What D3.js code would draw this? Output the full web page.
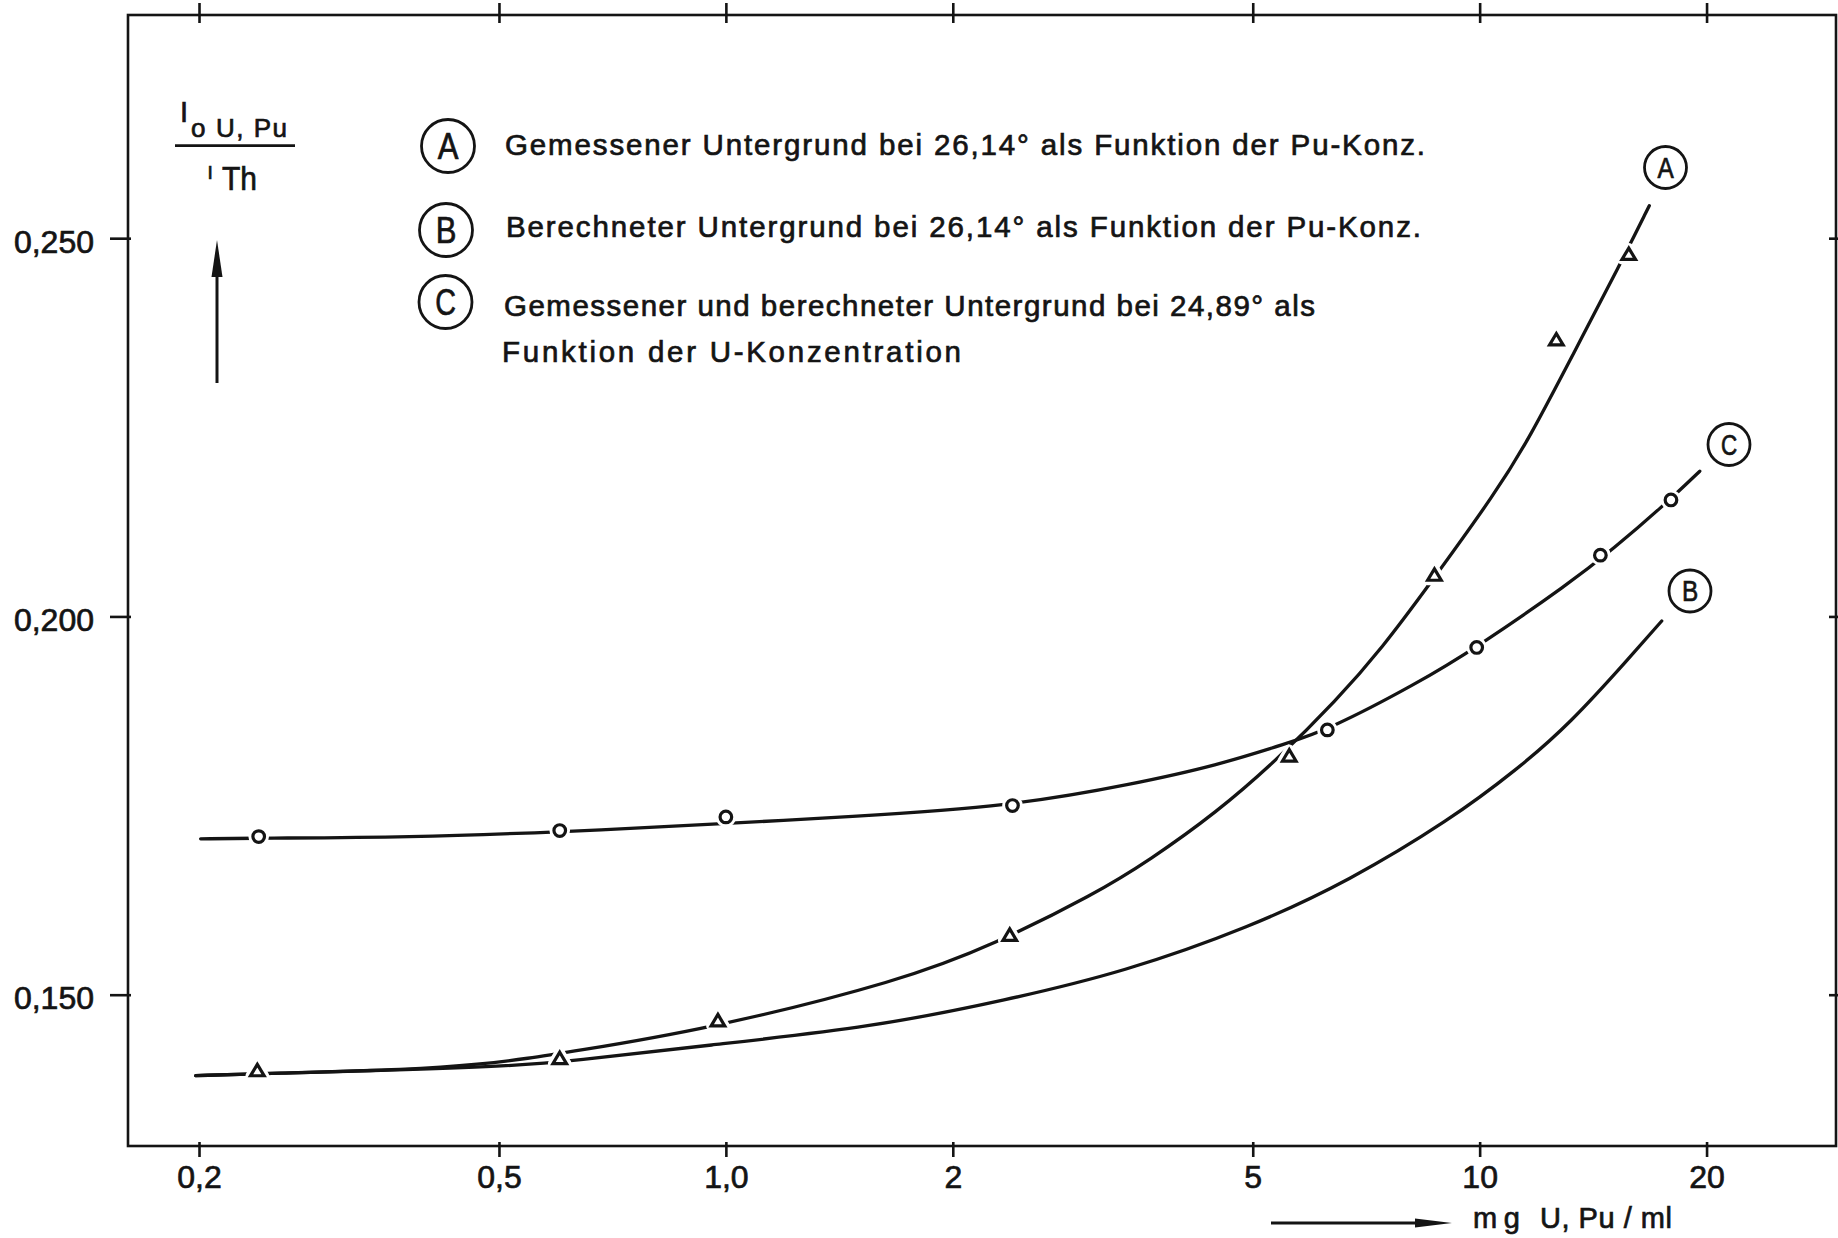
<!DOCTYPE html>
<html><head><meta charset="utf-8">
<script src="https://cdn.jsdelivr.net/npm/d3@7"></script>
<style>html,body{margin:0;padding:0;background:#fff;} svg{display:block;}</style>
</head><body>
<svg id="chart" width="1838" height="1238"></svg>
<script>
// ---------- data ----------
const xTicks = [0.2, 0.5, 1, 2, 5, 10, 20];
const xTickLabels = ["0,2", "0,5", "1,0", "2", "5", "10", "20"];
const yTicks = [0.150, 0.200, 0.250];
const yTickLabels = ["0,150", "0,200", "0,250"];

// measured points, curve A (triangles)
const pointsA = [[0.239,0.1400],[0.602,0.1416],[0.976,0.1466],[2.38,0.1579],[5.59,0.1816],[8.71,0.2055],[12.64,0.2366],[15.77,0.2479]];
// measured points, curve C (circles)
const pointsC = [[0.240,0.1709],[0.602,0.1717],[1.0,0.1735],[2.40,0.1750],[6.28,0.1850],[9.91,0.1959],[14.46,0.2081],[17.94,0.2154]];

// drawn (fitted) curves
const curveA = [[0.198,0.1393],[0.248,0.1396],[0.384,0.1401],[0.472,0.1408],[0.549,0.1416],[0.617,0.1424],[0.943,0.1454],[1.717,0.1519],[2.274,0.1567],[3.084,0.1633],[3.651,0.1678],[4.477,0.1741],[5.378,0.1810],[6.458,0.1889],[7.446,0.1960],[8.502,0.2037],[10.53,0.2165],[11.66,0.2237],[13.31,0.2347],[15.35,0.2465],[16.79,0.2543]];
const curveB = [[0.198,0.1393],[0.248,0.1396],[0.384,0.1401],[0.522,0.1406],[0.621,0.1412],[0.943,0.1433],[1.567,0.1457],[2.359,0.1493],[3.372,0.1530],[4.955,0.1589],[6.727,0.1651],[9.128,0.1731],[11.19,0.1797],[13.17,0.1858],[15.82,0.1946],[17.44,0.1994]];
const curveC = [[0.201,0.1706],[0.240,0.1707],[0.380,0.1708],[0.602,0.1715],[0.997,0.1726],[1.438,0.1735],[2.394,0.1749],[3.492,0.1779],[4.477,0.1803],[5.544,0.1832],[6.290,0.1850],[8.248,0.1911],[9.908,0.1959],[13.17,0.2044],[15.03,0.2089],[17.52,0.2146],[19.59,0.2192]];

const legendLetters = ["A", "B", "C"];
const legendLines = [
  "Gemessener Untergrund bei 26,14° als Funktion der Pu-Konz.",
  "Berechneter Untergrund bei 26,14° als Funktion der Pu-Konz.",
  "Gemessener und berechneter Untergrund bei 24,89° als",
  "Funktion der U-Konzentration"
];
const xTitle = ["mg", "U, Pu / ml"];

// ---------- drawing ----------
const INK = "#141414";
const FONT = "'Liberation Sans', Arial, sans-serif";
const svg = d3.select("#chart");
svg.append("rect").attr("width", 1838).attr("height", 1238).attr("fill", "#fff");

function ink(sel, size) {
  return sel.attr("font-family", FONT).attr("font-size", size).attr("fill", INK)
    .attr("stroke", INK).attr("stroke-width", 0.7).attr("paint-order", "stroke");
}

const M = {left: 128, right: 1836, top: 15, bottom: 1146};
const x = d3.scaleLog().domain([0.161, 29.7]).range([M.left, M.right]);
const y = d3.scaleLinear().domain([0.13, 0.2795]).range([M.bottom, M.top]);

// frame
svg.append("rect").attr("x", M.left).attr("y", M.top)
  .attr("width", M.right - M.left).attr("height", M.bottom - M.top)
  .attr("fill", "none").attr("stroke", INK).attr("stroke-width", 2.6);

// bottom axis
const gb = svg.append("g").attr("transform", `translate(0,${M.bottom})`)
  .call(d3.axisBottom(x).tickValues(xTicks).tickFormat((d, i) => xTickLabels[i]).tickSizeOuter(0));
gb.select(".domain").remove();
gb.selectAll(".tick line").attr("y1", -4).attr("y2", 11).attr("stroke", INK).attr("stroke-width", 2.6);
ink(gb.selectAll(".tick text").attr("y", 42).attr("dy", null), 32);

// top axis (ticks only)
const gt = svg.append("g").attr("transform", `translate(0,${M.top})`)
  .call(d3.axisTop(x).tickValues(xTicks).tickFormat("").tickSizeOuter(0));
gt.select(".domain").remove();
gt.selectAll(".tick line").attr("y1", -12).attr("y2", 8).attr("stroke", INK).attr("stroke-width", 2.6);

// left axis
const gl = svg.append("g").attr("transform", `translate(${M.left},0)`)
  .call(d3.axisLeft(y).tickValues(yTicks).tickFormat((d, i) => yTickLabels[i]).tickSizeOuter(0));
gl.select(".domain").remove();
gl.selectAll(".tick line").attr("x1", -18).attr("x2", 3).attr("stroke", INK).attr("stroke-width", 2.6);
ink(gl.selectAll(".tick text").attr("x", -34).attr("y", 14).attr("dy", null), 32);

// right axis (ticks only)
const gr = svg.append("g").attr("transform", `translate(${M.right},0)`)
  .call(d3.axisRight(y).tickValues(yTicks).tickFormat("").tickSizeOuter(0));
gr.select(".domain").remove();
gr.selectAll(".tick line").attr("x1", -7).attr("x2", 2).attr("stroke", INK).attr("stroke-width", 2.6);

// curves
const line = d3.line().x(d => x(d[0])).y(d => y(d[1])).curve(d3.curveBasis);
[curveB, curveA, curveC].forEach(c => {
  svg.append("path").attr("d", line(c)).attr("fill", "none")
    .attr("stroke", INK).attr("stroke-width", 3.3).attr("stroke-linecap", "round");
});

// markers
const tri = "M0,-6L6.8,5.4L-6.8,5.4Z";
const gA = svg.append("g");
gA.selectAll("path.halo").data(pointsA).join("path").attr("class", "halo")
  .attr("d", tri).attr("transform", d => `translate(${x(d[0])},${y(d[1])})`)
  .attr("fill", "#fff").attr("stroke", "#fff").attr("stroke-width", 10).attr("stroke-linejoin", "round");
gA.selectAll("path.mk").data(pointsA).join("path").attr("class", "mk")
  .attr("d", tri).attr("transform", d => `translate(${x(d[0])},${y(d[1])})`)
  .attr("fill", "#fff").attr("stroke", INK).attr("stroke-width", 3.2).attr("stroke-linejoin", "miter");

const gC = svg.append("g");
gC.selectAll("circle.halo").data(pointsC).join("circle").attr("class", "halo")
  .attr("cx", d => x(d[0])).attr("cy", d => y(d[1])).attr("r", 5.8)
  .attr("fill", "#fff").attr("stroke", "#fff").attr("stroke-width", 9);
gC.selectAll("circle.mk").data(pointsC).join("circle").attr("class", "mk")
  .attr("cx", d => x(d[0])).attr("cy", d => y(d[1])).attr("r", 5.8)
  .attr("fill", "#fff").attr("stroke", INK).attr("stroke-width", 3.2);

// circled letter helper
function circled(cx, cy, r, letter, fs) {
  svg.append("circle").attr("cx", cx).attr("cy", cy).attr("r", r)
    .attr("fill", "#fff").attr("stroke", INK).attr("stroke-width", 2.8);
  ink(svg.append("text").attr("x", cx).attr("y", cy + fs * 0.36).attr("text-anchor", "middle"), fs)
    .attr("textLength", fs * 0.56).attr("lengthAdjust", "spacingAndGlyphs").text(letter);
}

// legend
const legendCircles = [[448, 146], [446, 230], [445.5, 302]];
legendLetters.forEach((L, i) => circled(legendCircles[i][0], legendCircles[i][1], 26.5, L, 37));
const legendPos = [[505, 155, 920], [506, 237, 915], [504, 316, 811], [502, 362, 459]];
legendLines.forEach((t, i) => {
  ink(svg.append("text").attr("x", legendPos[i][0]).attr("y", legendPos[i][1])
    .attr("textLength", legendPos[i][2]).attr("lengthAdjust", "spacing"), 29.5).text(t);
});

// curve labels
circled(1665.5, 167.5, 21, "A", 29);
circled(1729, 444.5, 21, "C", 29);
circled(1690, 591, 21, "B", 29);

// y-axis title (fraction)
ink(svg.append("text").attr("x", 180).attr("y", 121.5), 29).text("I");
ink(svg.append("text").attr("x", 191).attr("y", 136.5), 26).text("o");
ink(svg.append("text").attr("x", 216).attr("y", 136.5).attr("textLength", 71).attr("lengthAdjust", "spacing"), 26).text("U, Pu");
svg.append("line").attr("x1", 175).attr("x2", 295).attr("y1", 145.7).attr("y2", 145.7)
  .attr("stroke", INK).attr("stroke-width", 2.8);
ink(svg.append("text").attr("x", 207.5).attr("y", 179), 19).text("I");
ink(svg.append("text").attr("x", 222).attr("y", 190).attr("textLength", 35).attr("lengthAdjust", "spacingAndGlyphs"), 33).text("Th");

// up arrow
svg.append("line").attr("x1", 217).attr("x2", 217).attr("y1", 272).attr("y2", 383)
  .attr("stroke", INK).attr("stroke-width", 3);
svg.append("path").attr("d", "M217,240L222.5,277L211.5,277Z").attr("fill", INK);

// x-axis title with arrow
svg.append("line").attr("x1", 1271).attr("x2", 1420).attr("y1", 1223).attr("y2", 1223)
  .attr("stroke", INK).attr("stroke-width", 2.8);
svg.append("path").attr("d", "M1452,1223L1415,1218.5L1415,1227.5Z").attr("fill", INK);
ink(svg.append("text").attr("x", 1473).attr("y", 1228).attr("textLength", 47).attr("lengthAdjust", "spacing"), 29).text(xTitle[0]);
ink(svg.append("text").attr("x", 1540).attr("y", 1228).attr("textLength", 132).attr("lengthAdjust", "spacing"), 29).text(xTitle[1]);
</script>
</body></html>
